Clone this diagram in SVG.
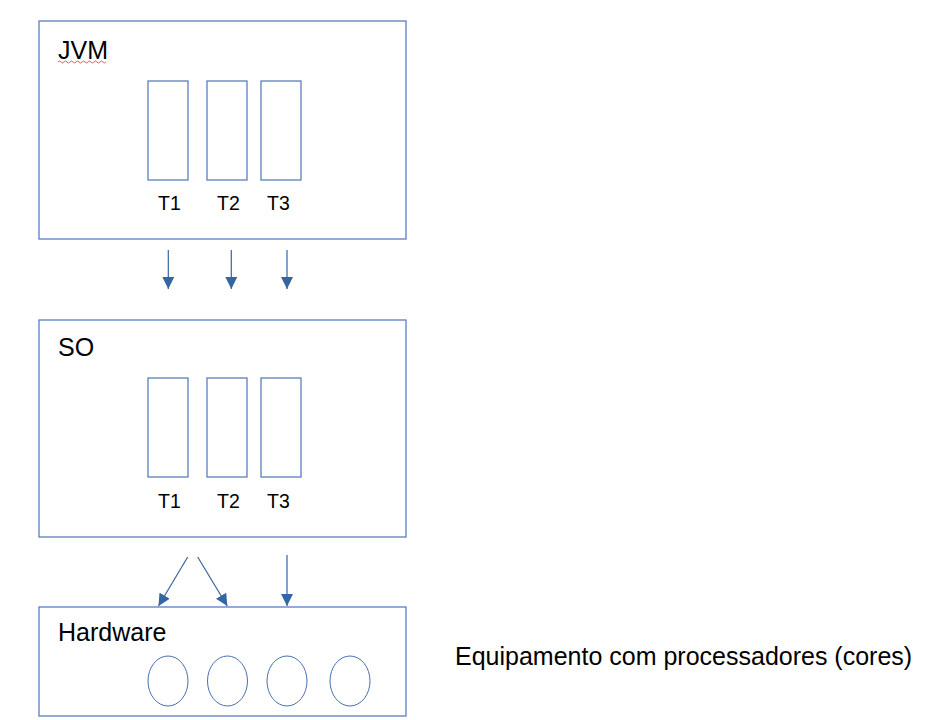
<svg xmlns="http://www.w3.org/2000/svg" width="934" height="720" viewBox="0 0 934 720">
<defs>
<marker id="ah" markerUnits="userSpaceOnUse" markerWidth="12" markerHeight="12" refX="12" refY="6" orient="auto">
<path d="M0,0 L12,6 L0,12 z" fill="#3465a4"/>
</marker>
<style>
.box{fill:#fff;stroke:#5b7fbd;stroke-width:1.3}
.th{fill:none;stroke:#5b7fbd;stroke-width:1.3}
.core{fill:none;stroke:#4a70b0;stroke-width:1}
.t{font-family:"Liberation Sans",Arial,sans-serif;fill:#000}
.big{font-size:25px}
.sm{font-size:19.5px}
.conn{stroke:#3465a4;stroke-width:1.2;fill:none;marker-end:url(#ah)}
</style>
</defs>
<rect width="934" height="720" fill="#fff"/>
<g id="jvm">
<rect class="box" x="39" y="21" width="367" height="218"/>
<text class="t big" x="58" y="59">JVM</text>
<path d="M58,62 q1.5,-2 3,0 t3,0 t3,0 t3,0 t3,0 t3,0 t3,0 t3,0 t3,0 t3,0 t3,0 t3,0 t3,0 t3,0 t3,0 t3,0" fill="none" stroke="#e84a4a" stroke-width="0.9"/>
<rect class="th" x="148" y="81" width="40" height="99"/>
<rect class="th" x="207" y="81" width="40" height="99"/>
<rect class="th" x="261" y="81" width="40" height="99"/>
<text class="t sm" x="169.5" y="210" text-anchor="middle">T1</text>
<text class="t sm" x="228.5" y="210" text-anchor="middle">T2</text>
<text class="t sm" x="278.5" y="210" text-anchor="middle">T3</text>
</g>
<g id="so">
<rect class="box" x="39" y="320" width="367" height="217"/>
<text class="t big" x="58" y="356">SO</text>
<rect class="th" x="148" y="378" width="40" height="99"/>
<rect class="th" x="207" y="378" width="40" height="99"/>
<rect class="th" x="261" y="378" width="40" height="99"/>
<text class="t sm" x="169.5" y="508" text-anchor="middle">T1</text>
<text class="t sm" x="228.5" y="508" text-anchor="middle">T2</text>
<text class="t sm" x="278.5" y="508" text-anchor="middle">T3</text>
</g>
<g id="hardware">
<rect class="box" x="39" y="607" width="367" height="109"/>
<text class="t big" x="58" y="641">Hardware</text>
<ellipse class="core" cx="168" cy="681" rx="20" ry="25"/>
<ellipse class="core" cx="227.5" cy="681" rx="20" ry="25"/>
<ellipse class="core" cx="287" cy="681" rx="20" ry="25"/>
<ellipse class="core" cx="350" cy="681" rx="20" ry="25"/>
</g>
<g id="label">
<text class="t big" x="455" y="665">Equipamento com processadores (cores)</text>
</g>
<g id="connectors">
<line class="conn" x1="168.3" y1="250" x2="168.3" y2="289"/>
<line class="conn" x1="231.3" y1="250" x2="231.3" y2="289"/>
<line class="conn" x1="287" y1="250" x2="287" y2="289"/>
<line class="conn" x1="187.7" y1="557" x2="158.5" y2="606"/>
<line class="conn" x1="197.7" y1="557" x2="227.3" y2="606"/>
<line class="conn" x1="287" y1="555" x2="287" y2="606"/>
</g>
</svg>
